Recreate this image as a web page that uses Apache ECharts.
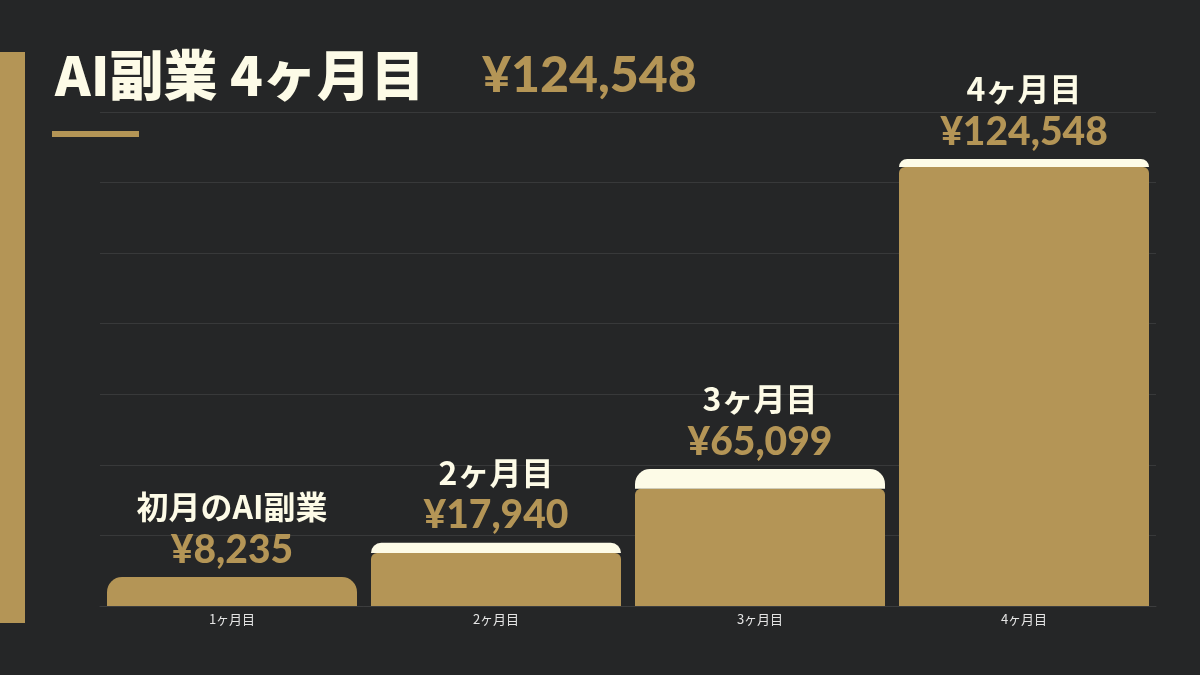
<!DOCTYPE html>
<html>
<head>
<meta charset="utf-8">
<script src="https://cdn.jsdelivr.net/npm/echarts@6/dist/echarts.min.js"></script>
<style>
  html, body { margin: 0; padding: 0; background: #252627; }
  #chart { width: 1200px; height: 675px; }
</style>
</head>
<body>
<div id="chart"></div>
<script>
// 横軸のカテゴリ
var categories = ['1ヶ月目', '2ヶ月目', '3ヶ月目', '4ヶ月目'];
// 棒の上に出す見出し
var barNames = ['初月のAI副業', '2ヶ月目', '3ヶ月目', '4ヶ月目'];
// 表示金額
var earnings = [8235, 17940, 65099, 124548];
// 棒の高さ
var baseHeights = [8200, 15000, 33200, 124400];
var capHeights = [0, 2900, 5600, 2300];

var GOLD = '#b49556';
var CREAM = '#fdfbe7';
var JP = '"Noto Sans CJK JP", "Noto Sans", sans-serif';

function yen(v) {
    return '¥' + v.toLocaleString('en-US');
}

var chart = echarts.init(document.getElementById('chart'));

var option = {
    backgroundColor: '#252627',
    animation: false,
    title: [{
        text: 'AI副業 4ヶ月目',
        left: 50,
        top: 43,
        textStyle: {
            color: CREAM,
            fontFamily: JP,
            fontWeight: 900,
            fontSize: 54,
            textShadowColor: 'rgba(0,0,0,0.8)',
            textShadowOffsetX: 2,
            textShadowOffsetY: 2
        }
    }, {
        text: yen(earnings[earnings.length - 1]),
        left: 477,
        top: 46,
        textStyle: {
            color: GOLD,
            fontFamily: 'Lato, sans-serif',
            fontWeight: 900,
            fontSize: 50
        }
    }],
    graphic: [{
        type: 'rect',
        shape: { x: 0, y: 52, width: 25, height: 571 },
        style: { fill: GOLD }
    }, {
        type: 'rect',
        shape: { x: 52, y: 131, width: 87, height: 6 },
        style: { fill: GOLD }
    }],
    grid: {
        left: 100,
        right: 44,
        top: 112,
        bottom: 69
    },
    xAxis: {
        type: 'category',
        data: categories,
        axisLine: { lineStyle: { color: '#3c3d3e', width: 1 } },
        axisTick: { show: false },
        axisLabel: {
            color: '#e4e4e4',
            fontFamily: JP,
            fontSize: 13,
            margin: 7
        }
    },
    yAxis: {
        type: 'value',
        min: 0,
        max: 140000,
        interval: 20000,
        axisLabel: { show: false },
        axisLine: { show: false },
        axisTick: { show: false },
        splitLine: { lineStyle: { color: '#38393a', width: 1 } }
    },
    series: [{
        type: 'bar',
        stack: 'total',
        barWidth: 250,
        data: baseHeights.map(function (v, i) {
            return {
                value: v,
                itemStyle: { borderRadius: capHeights[i] ? [6, 6, 0, 0] : [15, 15, 0, 0] }
            };
        }),
        itemStyle: { color: GOLD }
    }, {
        type: 'bar',
        stack: 'total',
        barWidth: 250,
        data: capHeights,
        itemStyle: { color: CREAM, borderRadius: [15, 15, 0, 0] },
        label: {
            show: true,
            position: 'top',
            distance: 5,
            formatter: function (p) {
                return '{n|' + barNames[p.dataIndex] + '}\n{v|' + yen(earnings[p.dataIndex]) + '}';
            },
            rich: {
                n: {
                    color: CREAM,
                    fontFamily: JP,
                    fontWeight: 'bold',
                    fontSize: 32,
                    lineHeight: 42,
                    align: 'center'
                },
                v: {
                    color: GOLD,
                    fontFamily: 'Lato, sans-serif',
                    fontWeight: 900,
                    fontSize: 39,
                    lineHeight: 44,
                    align: 'center'
                }
            }
        }
    }]
};

chart.setOption(option);
</script>
</body>
</html>
